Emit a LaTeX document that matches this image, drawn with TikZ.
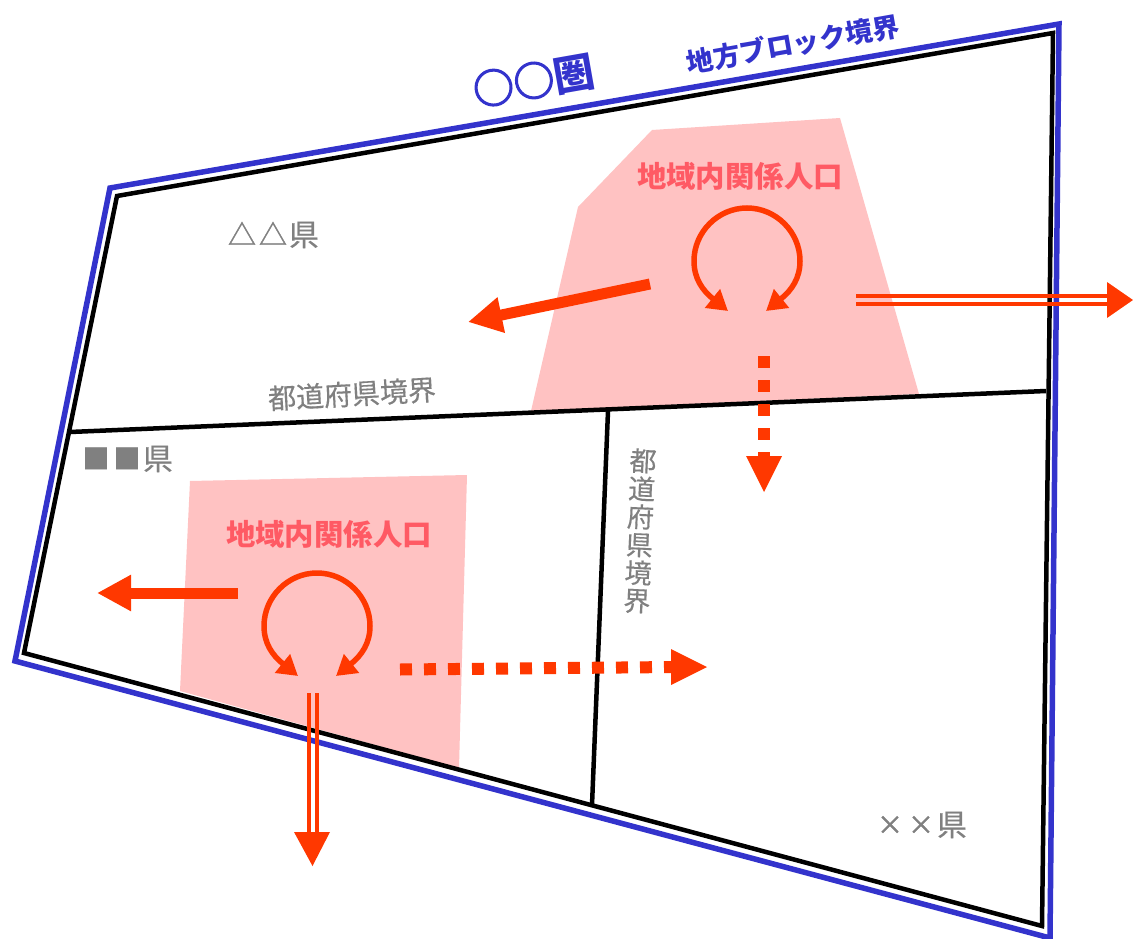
\documentclass[tikz,border=0pt]{standalone}
\usepackage{fontspec}
\setmainfont{Noto Sans CJK JP}
\newfontfamily\ringfont[FakeBold=2.6]{Noto Sans CJK JP}
\newfontfamily\markfont[FakeBold=1.4]{Noto Sans CJK JP}
\newfontfamily\grayfont[FakeBold=0.4]{Noto Sans CJK JP}
\usetikzlibrary{arrows.meta}
\definecolor{bandblue}{HTML}{3333CC}
\definecolor{flow}{HTML}{FF3800}
\definecolor{zone}{HTML}{FFC2C2}
\definecolor{zonetext}{HTML}{FF5A64}
\definecolor{labelgray}{HTML}{808080}
% a symbol of size #1 in a cell one character wide, centred on the text's middle line
\newcommand{\gsym}[2]{\makebox[31pt][c]{\raisebox{\dimexpr 0.38pt*(30-#1)\relax}{\fontsize{#1}{#1}\markfont #2}}}
\tikzset{
  x=1pt,y=-1pt,
  outer/.style={draw=bandblue,line width=5.5pt,line join=miter},
  inner/.style={draw=black,line width=4.5pt,line join=miter},
  pref/.style={draw=black,line width=4.5pt},
  zonefill/.style={fill=zone,draw=none},
  thickflow/.style={draw=flow,line width=11pt,-{Triangle[length=34pt,width=34pt]},flow},
  dotflow/.style={draw=flow,line width=12pt,dash pattern=on 12pt off 12pt},
  dothead/.style={fill=flow,draw=none},
  thinflow/.style={draw=flow,line width=3.8pt},
  loopflow/.style={draw=flow,line width=5.5pt,{Triangle[length=20pt,width=23pt]}-{Triangle[length=20pt,width=23pt]}},
  graylabel/.style={text=labelgray,inner sep=0pt,font=\fontsize{#1}{#1}\grayfont},
  zonelabel/.style={text=zonetext,inner sep=0pt,font=\fontsize{29.4}{29.4}\selectfont\bfseries},
  bluelabel/.style={text=bandblue,inner sep=0pt,rotate=10,font=\fontsize{#1}{#1}\selectfont\bfseries},
  flowloop/.pic={
    \draw[loopflow] (-19,50) .. controls (-45,29) and (-53,17) .. (-53,0)
      .. controls (-53,-29) and (-29,-53) .. (0,-53)
      .. controls (29,-53) and (53,-29) .. (53,0)
      .. controls (53,17) and (45,29) .. (19,50);
  }
}
\begin{document}
\begin{tikzpicture}
\useasboundingbox (0,0) rectangle (1133,939);
% zones
\fill[zonefill] (578,207) -- (652,130) -- (840,118) -- (919,394) -- (531,411) -- cycle;
\fill[zonefill] (190,481) -- (467,475) -- (459,768) -- (180,691) -- cycle;
% boundaries
\draw[outer] (110,188) -- (1059,24) -- (1050,938) -- (15,661) -- cycle;
\coordinate (ntl) at (117,196); \coordinate (ntr) at (1053,33);
\coordinate (nbr) at (1042,926); \coordinate (nbl) at (24,653);
\draw[inner] (ntl) -- (ntr) -- (nbr) -- (nbl) -- cycle;
\coordinate (hl) at (70,432); \coordinate (hr) at (1046,391);
\coordinate (vt) at (608,411); \coordinate (vb) at (592,805);
\draw[pref] (hl) -- (hr);
\draw[pref] (vt) -- (vb);
% labels
\node[bluelabel=27] (block) at (793,44) {地方ブロック境界};
\node[bluelabel=41] (ken) at (534,81) {{\ringfont ○○}圏};
\node[graylabel=30] (pa) at (273,235) {\gsym{28}{△}\gsym{28}{△}\makebox[31pt][c]{県}};
\node[graylabel=30] (pb) at (127,459) {\gsym{27}{■}\gsym{27}{■}\makebox[31pt][c]{県}};
\node[graylabel=30] (pc) at (921,825) {\gsym{26}{×}\gsym{26}{×}\makebox[31pt][c]{県}};
\node[graylabel=28,rotate=3.2] (bh) at (352,394) {都道府県境界};
\node[graylabel=27,align=center,rotate=-2.5,font=\fontsize{27}{28}\grayfont] (bv) at (640,531) {都\\道\\府\\県\\境\\界};
\node[zonelabel] (za) at (740,176) {地域内関係人口};
\node[zonelabel] (zb) at (329,534) {地域内関係人口};
% loops
\pic at (747,261) {flowloop};
\pic at (317,626) {flowloop};
% upper flows
\coordinate (a1s) at (650,284); \coordinate (a1e) at (468,322);
\draw[thickflow] (a1s) -- (a1e);
\coordinate (a2s) at (763.5,356); \coordinate (a2e) at (764,492); \coordinate (a2m) at (763.5,462);
\draw[dotflow] (a2s) -- (a2m);
\fill[dothead] (a2e) -- (746,456) -- (782,456) -- cycle;
\coordinate (a3sa) at (856,296); \coordinate (a3ea) at (1108,296);
\coordinate (a3sb) at (856,304); \coordinate (a3eb) at (1108,304);
\draw[thinflow] (a3sa) -- (a3ea);
\draw[thinflow] (a3sb) -- (a3eb);
\fill[dothead] (1133,300) -- (1107,282) -- (1107,318) -- cycle;
% lower flows
\coordinate (b1s) at (238,593); \coordinate (b1e) at (97,593);
\draw[thickflow] (b1s) -- (b1e);
\coordinate (b2s) at (400,669.5); \coordinate (b2m) at (676,667); \coordinate (b2e) at (707,667);
\draw[dotflow] (b2s) -- (b2m);
\fill[dothead] (b2e) -- (671,649) -- (671,685) -- cycle;
\coordinate (b3sa) at (309,693); \coordinate (b3ea) at (309,833);
\coordinate (b3sb) at (317,693); \coordinate (b3eb) at (317,833);
\draw[thinflow] (b3sa) -- (b3ea);
\draw[thinflow] (b3sb) -- (b3eb);
\fill[dothead] (312.5,866) -- (294,832) -- (330,832) -- cycle;
\end{tikzpicture}
\end{document}
